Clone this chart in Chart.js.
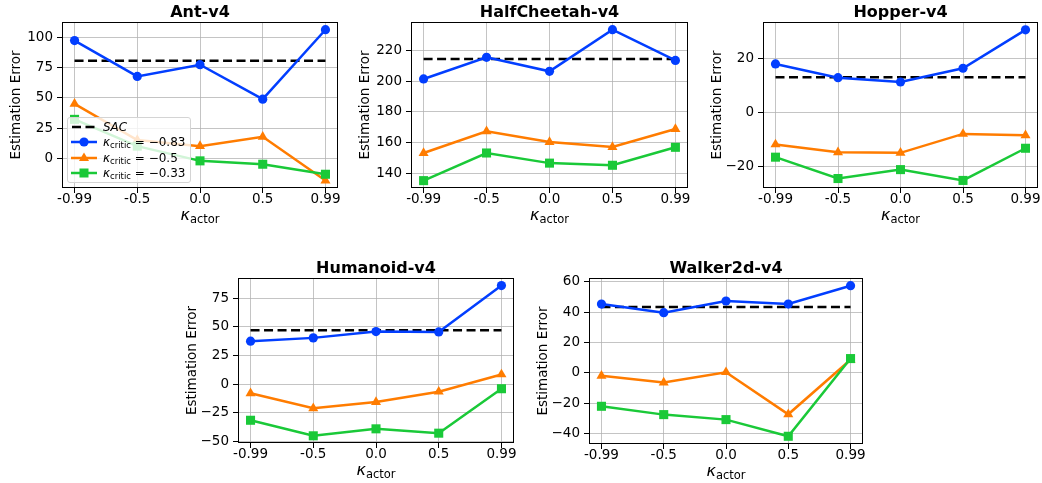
<!DOCTYPE html>
<html>
<head>
<meta charset="utf-8">
<script src="https://cdn.jsdelivr.net/npm/chart.js@4.4.0/dist/chart.umd.min.js"></script>
<style>
  html, body { margin: 0; padding: 0; background: #fff; overflow: hidden; }
  body { width: 1042px; height: 483px; position: relative; font-family: "DejaVu Sans", sans-serif; color: #000; }
  canvas { position: absolute; }
  .xlabel { position: absolute; text-align: center; font-size: 16px; line-height: 18px; height: 18px; white-space: nowrap; }
  .xlabel sub { font-size: 11.5px; vertical-align: -3px; line-height: 0; }
  .legend {
    position: absolute; left: 67px; top: 117px; width: 124px; height: 66px;
    box-sizing: border-box; border: 1px solid #d4d4d4; border-radius: 3px;
    background: rgba(255, 255, 255, 0.8); z-index: 5; font-size: 12px;
  }
  .legend .row { position: absolute; left: 3px; height: 15.5px; display: flex; align-items: center; white-space: nowrap; }
  .legend svg { width: 26px; height: 12px; margin-right: 6px; flex: none; }
  .legend sub { font-size: 8.5px; vertical-align: -2px; line-height: 0; }
</style>
</head>
<body>
<script>
// x positions (kappa_actor), shared by every panel
const xLabels = ["-0.99", "-0.5", "0.0", "0.5", "0.99"];
const criticLabels = ["\u22120.83", "\u22120.5", "\u22120.33"];
const envNames = ["Ant-v4", "HalfCheetah-v4", "Hopper-v4", "Humanoid-v4", "Walker2d-v4"];

// estimation error per kappa_critic
const critic083 = [
  [97.5, 67.8, 77.5, 48.9, 106.5],
  [201.5, 215.6, 206.5, 233.6, 213.6],
  [17.9, 12.8, 11.2, 16.3, 30.5],
  [37.5, 40.4, 45.9, 45.6, 86.2],
  [45.4, 39.7, 47.4, 45.4, 57.5]
];
const critic05 = [
  [45.0, 15.0, 10.0, 17.8, -18.5],
  [153.3, 167.4, 160.4, 157.2, 168.9],
  [-11.9, -14.8, -15.0, -8.0, -8.5],
  [-8.1, -21.2, -15.7, -6.7, 8.4],
  [-2.0, -6.4, 0.4, -27.4, 8.6]
];
const critic033 = [
  [32.2, 10.0, -2.2, -5.0, -13.3],
  [135.3, 153.3, 146.7, 145.3, 157.0],
  [-16.6, -24.5, -21.2, -25.2, -13.3],
  [-31.7, -45.3, -39.2, -43.0, -4.1],
  [-22.1, -27.6, -30.9, -41.9, 9.4]
];
const sacBaseline = [80.8, 214.5, 13.0, 47.0, 43.4];

// y axis ticks and limits
const yTicks = [
  [0, 25, 50, 75, 100],
  [140, 160, 180, 200, 220],
  [-20, 0, 20],
  [-50, -25, 0, 25, 50, 75],
  [-40, -20, 0, 20, 40, 60]
];
const yLimits = [
  [-24.7, 112.9],
  [130.5, 238.6],
  [-28.0, 33.4],
  [-51.6, 92.8],
  [-47.0, 62.6]
];

// plot area of each panel in page pixels
const panels = [
  { L: 62, R: 338, T: 22, B: 188 },
  { L: 411, R: 688, T: 22, B: 188 },
  { L: 763, R: 1038, T: 22, B: 188 },
  { L: 238, R: 514, T: 278, B: 443 },
  { L: 589, R: 863, T: 278, B: 444 }
];

const COLORS = ["#023eff", "#ff7c00", "#1ac938"];
const GRID = "rgba(176,176,176,0.75)";
const FONT = '"DejaVu Sans", sans-serif';
const Y_AXIS_W = 62, TITLE_H = 22, X_AXIS_H = 26, PAD_R = 6;

const framePlugin = {
  id: "frame",
  afterDatasetsDraw(chart) {
    const { ctx, chartArea: a } = chart;
    ctx.save();
    ctx.strokeStyle = "#000";
    ctx.lineWidth = 1;
    ctx.strokeRect(a.left + 0.5, a.top + 0.5, a.right - a.left - 1, a.bottom - a.top - 1);
    ctx.restore();
  }
};

function toPoints(values) {
  return values.map((y, i) => ({ x: i, y: y }));
}

function fmtY(v) {
  return v < 0 ? "\u2212" + Math.abs(v) : String(v);
}

function makePanel(idx) {
  const p = panels[idx];
  const canvas = document.createElement("canvas");
  const w = (p.R - p.L) + Y_AXIS_W + PAD_R;
  const h = (p.B - p.T) + TITLE_H + X_AXIS_H;
  canvas.width = w;
  canvas.height = h;
  canvas.style.left = (p.L - Y_AXIS_W) + "px";
  canvas.style.top = (p.T - TITLE_H) + "px";
  canvas.style.width = w + "px";
  canvas.style.height = h + "px";
  document.body.appendChild(canvas);

  const lineSet = (values, color, style, radius) => ({
    data: toPoints(values),
    borderColor: color,
    backgroundColor: color,
    borderWidth: 2.5,
    pointStyle: style,
    pointRadius: radius,
    pointBorderWidth: 0,
    pointHoverRadius: radius,
    tension: 0,
    fill: false
  });

  // later datasets are drawn underneath in Chart.js
  const datasets = [
    lineSet(critic033[idx], COLORS[2], "rect", 6.4),
    lineSet(critic05[idx], COLORS[1], "triangle", 5.8),
    lineSet(critic083[idx], COLORS[0], "circle", 4.6),
    {
      data: toPoints(xLabels.map(() => sacBaseline[idx])),
      borderColor: "#000",
      borderWidth: 2.5,
      borderDash: [9, 4.5],
      pointRadius: 0,
      fill: false
    }
  ];

  new Chart(canvas, {
    type: "line",
    data: { datasets },
    plugins: [framePlugin],
    options: {
      responsive: false,
      animation: false,
      devicePixelRatio: 1,
      events: [],
      layout: { autoPadding: false, padding: { left: 0, right: PAD_R, top: 0, bottom: 0 } },
      plugins: {
        legend: { display: false },
        tooltip: { enabled: false },
        title: {
          display: true,
          fullSize: false,
          text: envNames[idx],
          color: "#000",
          font: { family: FONT, size: 16, weight: "bold", lineHeight: 1.15 },
          padding: { top: 3.6, bottom: 0 }
        }
      },
      scales: {
        x: {
          type: "linear",
          min: -0.2,
          max: 4.2,
          afterBuildTicks: (s) => { s.ticks = xLabels.map((_, i) => ({ value: i })); },
          afterFit: (s) => { s.height = X_AXIS_H; },
          ticks: {
            callback: (v, i) => xLabels[i],
            color: "#000",
            font: { family: FONT, size: 13.5, lineHeight: 1 },
            padding: 0,
            maxRotation: 0,
            autoSkip: false
          },
          grid: { color: GRID, lineWidth: 1, tickColor: "#000", tickLength: 5, tickWidth: 1 },
          border: { display: false }
        },
        y: {
          type: "linear",
          min: yLimits[idx][0],
          max: yLimits[idx][1],
          afterBuildTicks: (s) => { s.ticks = yTicks[idx].map(v => ({ value: v })); },
          afterFit: (s) => { s.width = Y_AXIS_W; },
          ticks: {
            callback: (v) => fmtY(v),
            color: "#000",
            font: { family: FONT, size: 13.5 },
            padding: 4
          },
          grid: { color: GRID, lineWidth: 1, tickColor: "#000", tickLength: 5, tickWidth: 1 },
          border: { display: false },
          title: {
            display: true,
            text: "Estimation Error",
            color: "#000",
            font: { family: FONT, size: 13.5, lineHeight: 1.2 },
            padding: { top: 8, bottom: 0 }
          }
        }
      }
    }
  });

  const xl = document.createElement("div");
  xl.className = "xlabel";
  xl.style.left = p.L + "px";
  xl.style.width = (p.R - p.L) + "px";
  xl.style.top = (p.B + 18) + "px";
  xl.innerHTML = "<i>\u03ba</i><sub>actor</sub>";
  document.body.appendChild(xl);
}

panels.forEach((_, i) => makePanel(i));

// legend of the first panel
function handleSvg(color, marker, dashed) {
  let s = '<svg viewBox="0 0 26 12">';
  s += '<line x1="0" y1="6" x2="26" y2="6" stroke="' + color + '" stroke-width="2.5"' +
       (dashed ? ' stroke-dasharray="9 4.5" stroke-dashoffset="-1"' : '') + '/>';
  if (marker === "circle") s += '<circle cx="13" cy="6" r="4.6" fill="' + color + '"/>';
  if (marker === "triangle") s += '<polygon points="13,0.5 18,9 8,9" fill="' + color + '"/>';
  if (marker === "rect") s += '<rect x="8.5" y="1.5" width="9" height="9" fill="' + color + '"/>';
  return s + "</svg>";
}

const legend = document.createElement("div");
legend.className = "legend";
const rows = [
  handleSvg("#000", null, true) + "<i>SAC</i>",
  handleSvg(COLORS[0], "circle") + "<span><i>\u03ba</i><sub>critic</sub> = " + criticLabels[0] + "</span>",
  handleSvg(COLORS[1], "triangle") + "<span><i>\u03ba</i><sub>critic</sub> = " + criticLabels[1] + "</span>",
  handleSvg(COLORS[2], "rect") + "<span><i>\u03ba</i><sub>critic</sub> = " + criticLabels[2] + "</span>"
];
rows.forEach((html, i) => {
  const r = document.createElement("div");
  r.className = "row";
  r.style.top = (1.2 + i * 15.5) + "px";
  r.innerHTML = html;
  legend.appendChild(r);
});
document.body.appendChild(legend);
</script>
</body>
</html>
